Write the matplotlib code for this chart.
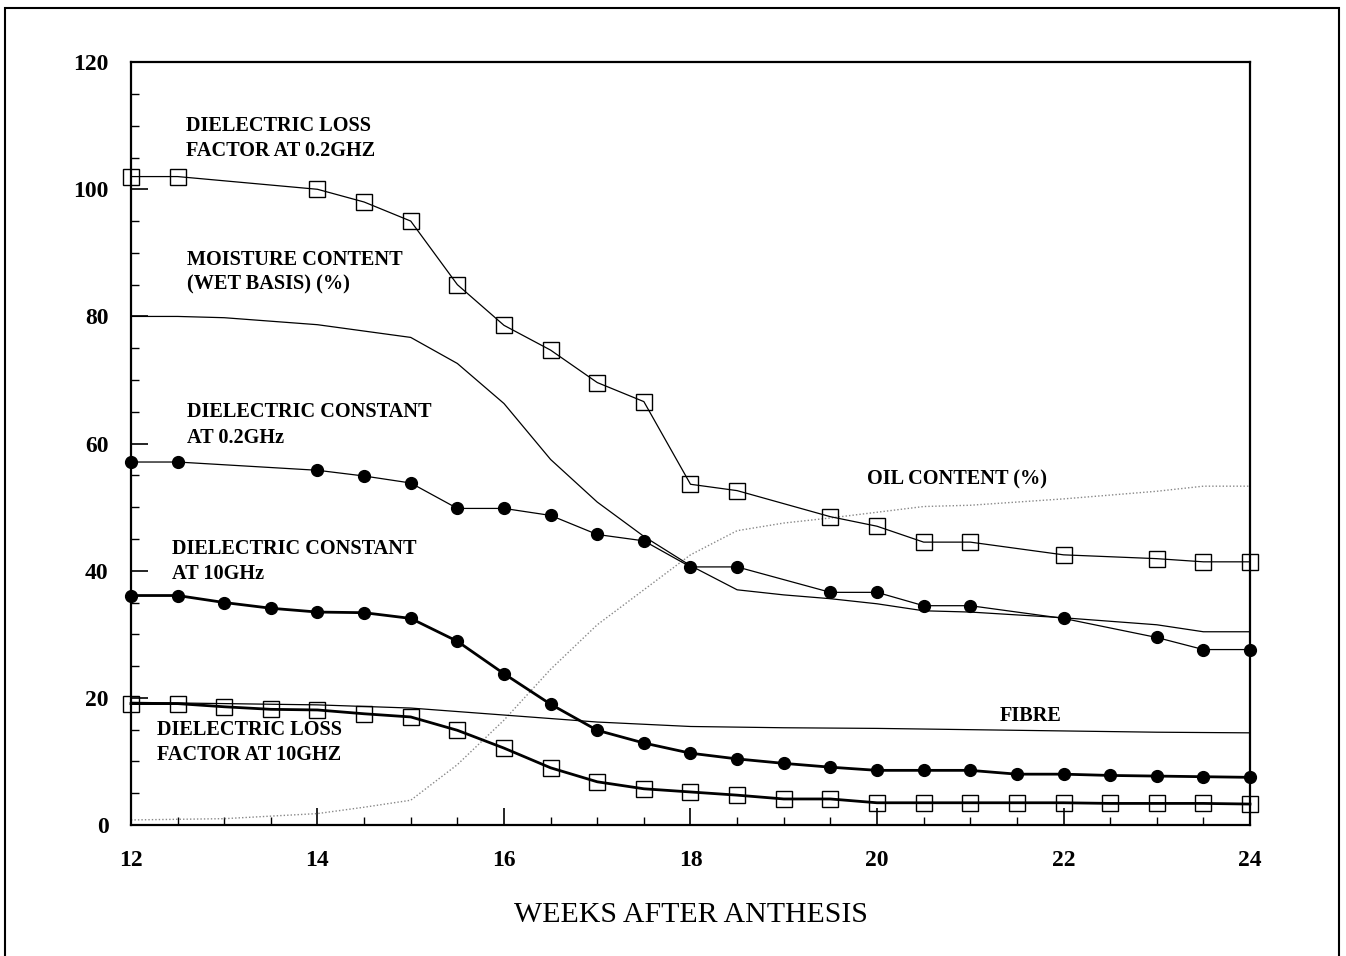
import matplotlib
matplotlib.use("Agg")
import matplotlib.pyplot as plt
from matplotlib.ticker import MultipleLocator
from matplotlib.patches import Rectangle

plt.rcParams['font.family'] = ['Liberation Serif', 'DejaVu Serif']

# dielectric loss factor at 0.2 GHz (open squares)
loss02_x = [12, 12.5, 14, 14.5, 15, 15.5, 16, 16.5, 17, 17.5, 18, 18.5, 19.5, 20, 20.5, 21, 22, 23, 23.5, 24]
loss02_y = [102, 102, 100, 98, 95, 85, 78.6, 74.7, 69.6, 66.6, 53.6, 52.6, 48.5, 47.0, 44.5, 44.5, 42.5, 41.9, 41.4, 41.4]

# moisture content (wet basis) %
moist_x = [12, 12.5, 13, 14, 15, 15.5, 16, 16.5, 17, 17.5, 18, 18.5, 19, 19.5, 20, 20.5, 21, 22, 23, 23.5, 24]
moist_y = [80, 80, 79.8, 78.7, 76.7, 72.6, 66.3, 57.5, 50.8, 45.4, 40.8, 37.0, 36.2, 35.6, 34.8, 33.7, 33.5, 32.6, 31.5, 30.4, 30.4]

# dielectric constant at 0.2 GHz (filled circles)
eps02_x = [12, 12.5, 14, 14.5, 15, 15.5, 16, 16.5, 17, 17.5, 18, 18.5, 19.5, 20, 20.5, 21, 22, 23, 23.5, 24]
eps02_y = [57.1, 57.1, 55.8, 54.9, 53.8, 49.8, 49.8, 48.7, 45.7, 44.7, 40.6, 40.6, 36.6, 36.6, 34.5, 34.5, 32.5, 29.5, 27.6, 27.6]

# dielectric constant at 10 GHz (filled circles, heavy line)
eps10_x = [12, 12.5, 13, 13.5, 14, 14.5, 15, 15.5, 16, 16.5, 17, 17.5, 18, 18.5, 19, 19.5, 20, 20.5, 21, 21.5, 22, 22.5, 23, 23.5, 24]
eps10_y = [36.1, 36.1, 35.0, 34.1, 33.5, 33.4, 32.5, 28.9, 23.8, 19.0, 14.9, 12.9, 11.3, 10.4, 9.7, 9.1, 8.6, 8.6, 8.6, 8.0, 8.0, 7.8, 7.7, 7.6, 7.5]

# dielectric loss factor at 10 GHz (open squares, heavy line)
loss10_x = [12, 12.5, 13, 13.5, 14, 14.5, 15, 15.5, 16, 16.5, 17, 17.5, 18, 18.5, 19, 19.5, 20, 20.5, 21, 21.5, 22, 22.5, 23, 23.5, 24]
loss10_y = [19.1, 19.1, 18.6, 18.2, 18.1, 17.5, 17.0, 14.9, 12.1, 9.0, 6.8, 5.7, 5.2, 4.7, 4.1, 4.1, 3.5, 3.5, 3.5, 3.5, 3.5, 3.4, 3.4, 3.4, 3.3]

# fibre
fibre_x = [12, 13, 14, 15, 16, 17, 18, 19, 20, 21, 22, 23, 24]
fibre_y = [19.3, 19.1, 18.9, 18.4, 17.3, 16.2, 15.5, 15.3, 15.2, 15.0, 14.8, 14.6, 14.5]

# oil content %
oil_x = [12, 13, 14, 14.5, 15, 15.5, 16, 16.5, 17, 17.5, 18, 18.5, 19, 19.5, 20, 20.5, 21, 22, 23, 23.5, 24]
oil_y = [0.8, 1.0, 1.8, 2.8, 3.9, 9.5, 16.5, 24.5, 31.5, 37.0, 42.5, 46.3, 47.5, 48.3, 49.2, 50.1, 50.3, 51.3, 52.5, 53.3, 53.3]

fig = plt.figure(figsize=(13.46, 9.56), dpi=100)
ax = fig.add_axes([0.0973, 0.137, 0.8314, 0.798])

# outer frame (bottom edge cut off in the original scan)
fig.add_artist(Rectangle((0.004, -0.05), 0.991, 1.042, transform=fig.transFigure,
                         fill=False, lw=1.5, color='black'))

ax.plot(oil_x, oil_y, color='#888888', lw=1.0, ls=(0, (1, 1.5)))
ax.plot(fibre_x, fibre_y, color='black', lw=0.9)
ax.plot(moist_x, moist_y, color='black', lw=0.9)
ax.plot(loss02_x, loss02_y, color='black', lw=0.9, marker='s', ms=11.5,
        mfc='none', mec='black', mew=1.0, clip_on=False)
ax.plot(eps02_x, eps02_y, color='black', lw=0.9, marker='o', ms=8.5,
        mfc='black', mec='black', clip_on=False)
ax.plot(eps10_x, eps10_y, color='black', lw=2.0, marker='o', ms=8.5,
        mfc='black', mec='black', clip_on=False)
ax.plot(loss10_x, loss10_y, color='black', lw=2.0, marker='s', ms=11.5,
        mfc='none', mec='black', mew=1.0, clip_on=False)

ax.set_xlim(12, 24)
ax.set_ylim(0, 120)
ax.xaxis.set_major_locator(MultipleLocator(2))
ax.xaxis.set_minor_locator(MultipleLocator(0.5))
ax.yaxis.set_major_locator(MultipleLocator(20))
ax.yaxis.set_minor_locator(MultipleLocator(5))
ax.tick_params(which='major', direction='in', length=12, width=1.2,
               labelsize=17, pad=16)
ax.tick_params(which='minor', direction='in', length=6, width=1.0)
ax.tick_params(axis='x', which='major', pad=18)
for lab in ax.get_xticklabels() + ax.get_yticklabels():
    lab.set_fontweight('bold')
for sp in ax.spines.values():
    sp.set_linewidth(1.6)

ax.set_xlabel('WEEKS AFTER ANTHESIS', fontsize=21.5, labelpad=22)

tkw = dict(fontsize=14.6, fontweight='bold', ha='left', va='top', linespacing=1.35)
ax.text(12.59, 111.6, 'DIELECTRIC LOSS\nFACTOR AT 0.2GHZ', **tkw)
ax.text(12.6, 90.5, 'MOISTURE CONTENT\n(WET BASIS) (%)', **tkw)
ax.text(12.6, 66.5, 'DIELECTRIC CONSTANT\nAT 0.2GHz', **tkw)
ax.text(12.44, 45.0, 'DIELECTRIC CONSTANT\nAT 10GHz', **tkw)
ax.text(12.28, 16.5, 'DIELECTRIC LOSS\nFACTOR AT 10GHZ', **tkw)
ax.text(19.89, 56.0, 'OIL CONTENT (%)', **tkw)
ax.text(21.32, 18.7, 'FIBRE', **tkw)

fig.savefig('out.png', dpi=100)
